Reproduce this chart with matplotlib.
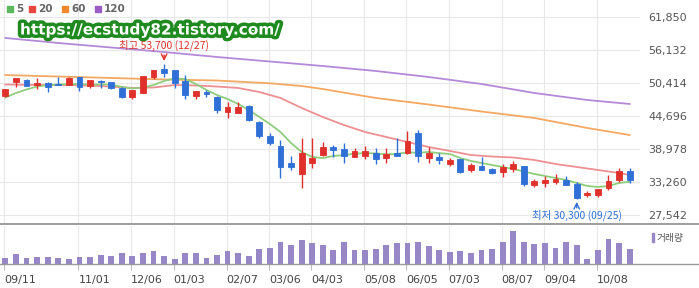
import matplotlib.pyplot as plt
import matplotlib.patheffects as pe
from matplotlib.lines import Line2D
from matplotlib.patches import Rectangle

plt.rcParams['font.family'] = ['Noto Sans CJK KR', 'DejaVu Sans']

# weekly candles (KRW)
opens = [48130, 50600, 50900, 49980, 50430, 50210, 50030, 51370, 49860, 50780,
         50500, 49570, 47910, 48700, 51370, 52800, 52630, 50780, 48180, 48770,
         48010, 45310, 45240, 46400, 43690, 41210, 39530, 36590, 34640, 36590,
         37920, 39260, 39010, 37630, 37750, 38320, 37460, 38320, 38220, 41780,
         37460, 37630, 36370, 37180, 35330, 36020, 35450, 35040, 35450, 36020,
         32730, 33130, 33310, 33600, 32910, 31000, 31000, 32160, 33600, 35160]
highs = [49350, 51250, 51120, 51190, 50500, 51470, 51350, 51400, 50950, 50900,
         50600, 49650, 49250, 51650, 52700, 53700, 52700, 51760, 49050, 49170,
         48100, 47150, 47040, 46500, 43750, 41780, 40520, 37750, 40810, 40810,
         40230, 39650, 39950, 39190, 39480, 39080, 39080, 40810, 42130, 42250,
         39360, 38220, 37350, 37250, 36590, 37530, 35620, 36370, 36940, 36100,
         33770, 34290, 34590, 34290, 33310, 31700, 32050, 34460, 35620, 35620]
lows = [47900, 49640, 49800, 49290, 48880, 49950, 49950, 49050, 49460, 49460,
        49340, 47730, 47560, 48650, 51020, 51370, 49570, 47560, 47560, 48010,
        45190, 44270, 45150, 43810, 40810, 39650, 34000, 35330, 32270, 35620,
        37750, 37630, 36490, 37530, 37180, 36370, 36590, 37750, 38150, 36770,
        36490, 36370, 36020, 34850, 34930, 35250, 34640, 34170, 34930, 32610,
        32440, 32440, 32860, 32650, 30300, 30710, 30710, 31870, 33310, 33030]
closes = [49290, 51190, 49860, 50430, 49740, 50030, 51300, 49640, 50900, 50550,
          49460, 47910, 49170, 51590, 52630, 52160, 50330, 48300, 49000, 48430,
          45710, 46180, 46180, 43980, 41260, 39950, 35800, 35900, 38220, 37460,
          39260, 38790, 37750, 38670, 38670, 37180, 38050, 37800, 40400, 37800,
          38220, 37060, 37060, 34930, 36140, 35330, 34860, 35800, 36320, 32910,
          33480, 33600, 33770, 32730, 30430, 31300, 31990, 33430, 35160, 33600]
volumes = [20, 32, 20, 23, 23, 20, 17, 23, 23, 28, 26, 35, 26, 35, 41, 26, 17, 35, 35, 20,
           28, 43, 35, 26, 50, 53, 73, 62, 77, 68, 62, 47, 71, 47, 47, 50, 62, 68, 68, 73,
           59, 47, 38, 43, 35, 47, 50, 73, 108, 71, 66, 68, 53, 71, 62, 17, 47, 83, 68, 50]

# moving averages
ma5 = [47870, 48650, 49260, 49770, 50030, 50120, 50210, 50210, 50120, 50120,
       50120, 49690, 49430, 49600, 50030, 50730, 51160, 51070, 50210, 49170,
       48300, 47610, 46750, 45710, 44500, 43290, 41900, 40000, 38440, 37580,
       37400, 37750, 37920, 38150, 38250, 38200, 38050, 38100, 38400, 38300,
       38450, 38250, 38100, 37400, 36890, 36540, 36190, 35850, 35500, 35070,
       34640, 34290, 33950, 33600, 33080, 32560, 32390, 32560, 33080, 33300]
ma20_idx = [0, 3, 6, 9, 12, 14, 16, 18, 20, 22, 24, 26, 28, 30, 32, 34, 36, 38, 40,
            42, 44, 46, 48, 50, 52, 54, 56, 58, 59]
ma20 = [50120, 50030, 50030, 49860, 49520, 49600, 50030, 49950, 49770, 49520,
        48820, 47790, 46060, 44500, 43110, 41900, 41040, 40170, 39310, 38620,
        37920, 37660, 37490, 37060, 36370, 35850, 35330, 34810, 34460]
ma60_idx = [0, 5, 10, 15, 20, 25, 28, 30, 35, 40, 45, 50, 55, 59]
ma60 = [51760, 51500, 51250, 50990, 50810, 50330, 49860, 49340, 47790, 46660,
        45450, 44330, 42600, 41380]
ma120_idx = [0, 5, 10, 15, 20, 25, 30, 35, 40, 45, 50, 55, 59]
ma120 = [58170, 57300, 56520, 55740, 54880, 54100, 53320, 52460, 51420, 50210,
         48650, 47440, 46750]

date_idx = [0, 7, 12, 16, 21, 25, 29, 34, 38, 42, 47, 51, 56]
date_labels = ['09/11', '11/01', '12/06', '01/03', '02/07', '03/06', '04/03',
               '05/08', '06/05', '07/03', '08/07', '09/04', '10/08']
price_ticks = [27542, 33260, 38978, 44696, 50414, 56132, 61850]

W, H = 699, 288
fig = plt.figure(figsize=(W / 100, H / 100), dpi=100)
ax = fig.add_axes([0, (H - 224) / H, 640 / W, 224 / H])
axv = fig.add_axes([0, (H - 264) / H, 640 / W, 38 / H])

up, down = '#e0302b', '#2f6fd6'
x = list(range(len(opens)))
grid_c = '#e8e8e8'

for a in (ax, axv):
    a.set_xlim(-0.51, 59.98)
    for s in a.spines.values():
        s.set_visible(False)
    for d in date_idx:
        a.axvline(d - 0.1, color=grid_c, lw=0.8, zorder=0)

ax.set_ylim(25987, 64739)
for t in price_ticks:
    ax.axhline(t, color=grid_c, lw=0.8, zorder=0)

ax.plot(ma120_idx, ma120, color='#b48ad8', lw=1.3, zorder=1)
ax.plot(ma60_idx, ma60, color='#f5a862', lw=1.3, zorder=1)
ax.plot(ma20_idx, ma20, color='#ee8f92', lw=1.3, zorder=1)
ax.plot(x, ma5, color='#8fcd7d', lw=1.3, zorder=1)

for i in x:
    col = up if closes[i] >= opens[i] else down
    ax.vlines(i, lows[i], highs[i], color=col, lw=1, zorder=2)
    ax.bar(i, abs(closes[i] - opens[i]), bottom=min(opens[i], closes[i]), width=0.55,
           color=col, edgecolor=col, lw=0.6, zorder=3)

ax.yaxis.tick_right()
ax.set_yticks(price_ticks)
ax.set_yticklabels([f'{t:,}' for t in price_ticks], fontsize=8, color='#555555',
                   family='DejaVu Sans')
ax.tick_params(axis='y', length=0, pad=6)
ax.set_xticks([])

# high / low markers (the high label sits partly under the watermark, as in the source)
ax.annotate('', xy=(15, 53700), xytext=(15, 53700 + 2000),
            arrowprops=dict(arrowstyle='->', color=up, lw=1), zorder=1)
ax.text(15, 53700 + 2200, '최고 53,700 (12/27)', color=up, fontsize=7.5,
        ha='center', va='bottom', zorder=1)
ax.annotate('', xy=(54, 30300), xytext=(54, 30300 - 2000),
            arrowprops=dict(arrowstyle='->', color=down, lw=1), zorder=4)
ax.text(54, 30300 - 1800, '최저 30,300 (09/25)', color=down, fontsize=7.5,
        ha='center', va='top', zorder=4, clip_on=False)

axv.bar(x, volumes, width=0.55, color='#9787c7', zorder=2)
axv.set_ylim(0, 124)
axv.set_yticks([])
axv.set_xticks([d - 0.1 for d in date_idx])
axv.set_xticklabels(date_labels, fontsize=8, color='#444444', family='DejaVu Sans')
for lbl in axv.get_xticklabels():
    lbl.set_ha('left')
axv.tick_params(axis='x', length=4, color='#bbbbbb', pad=4)

# separators
fig.add_artist(Line2D([0, 1], [(H - 224) / H] * 2, color='#8c8c8c', lw=1.2))
fig.add_artist(Line2D([0, 1], [(H - 264) / H] * 2, color='#9a9a9a', lw=1))

# legend
leg = [('5', '#5cb85c', 7), ('20', '#e8483e', 29), ('60', '#f0892e', 62), ('120', '#9b5cc4', 95)]
for name, c, px in leg:
    fig.add_artist(Rectangle((px / W, 1 - 12 / H), 6 / W, 6 / H, color=c))
    fig.text((px + 9) / W, 1 - 9 / H, name, fontsize=7.5, color='#666666',
             weight='bold', va='center', family='DejaVu Sans')

# volume label
fig.add_artist(Rectangle((652 / W, 1 - 242 / H), 2 / W, 9 / H, color='#9787c7'))
fig.text(657 / W, 1 - 237.5 / H, '거래량', fontsize=7, color='#555555', va='center')

# watermark
fig.text(20 / W, 1 - 30 / H, 'https://ecstudy82.tistory.com/', fontsize=11,
         weight='bold', color='white', va='center', family='DejaVu Sans',
         path_effects=[pe.withStroke(linewidth=5, foreground='#1f8a1f')], zorder=10)

fig.savefig('out.png', dpi=100)
